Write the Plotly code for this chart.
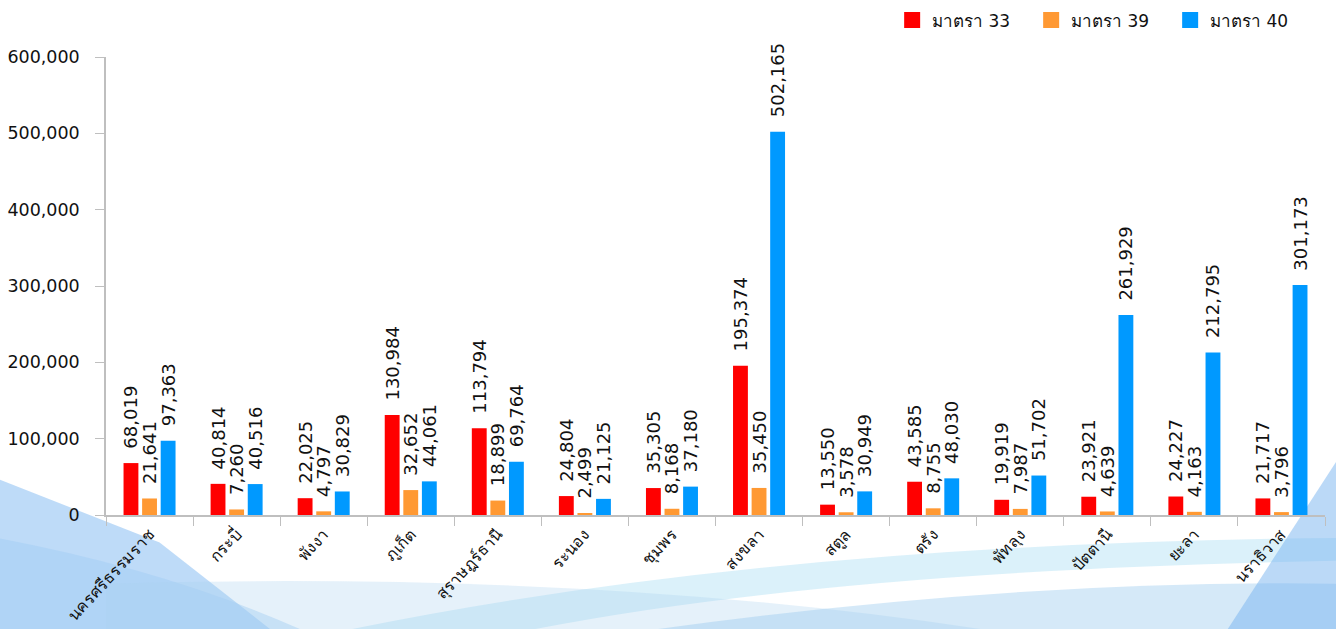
import plotly.graph_objects as go

provinces = ["นครศรีธรรมราช", "กระบี่", "พังงา", "ภูเก็ต", "สุราษฎร์ธานี", "ระนอง", "ชุมพร",
             "สงขลา", "สตูล", "ตรัง", "พัทลุง", "ปัตตานี", "ยะลา", "นราธิวาส"]
m33 = [68019, 40814, 22025, 130984, 113794, 24804, 35305, 195374, 13550, 43585, 19919, 23921, 24227, 21717]
m39 = [21641, 7260, 4797, 32652, 18899, 2499, 8168, 35450, 3578, 8755, 7987, 4639, 4163, 3796]
m40 = [97363, 40516, 30829, 44061, 69764, 21125, 37180, 502165, 30949, 48030, 51702, 261929, 212795, 301173]
y_ticks = [0, 100000, 200000, 300000, 400000, 500000, 600000]

series = [("มาตรา 33", m33, "#FF0000"), ("มาตรา 39", m39, "#FF9933"), ("มาตรา 40", m40, "#0099FF")]

fig = go.Figure()
for name, vals, col in series:
    fig.add_trace(go.Bar(
        x=provinces, y=vals, name=name, showlegend=False,
        marker=dict(color=col, line=dict(width=0)),
        text=["\u00a0\u00a0" + f"{v:,}" for v in vals],
        textposition="outside", textangle=-90, constraintext="none",
        textfont=dict(family="DejaVu Sans, sans-serif", size=18, color="#111"),
        cliponaxis=False,
    ))
for name, vals, col in series:
    fig.add_trace(go.Scatter(
        x=[None], y=[None], mode="markers", name=name,
        marker=dict(symbol="square", size=17, color=col),
    ))

shapes = [
    dict(type="path", xref="paper", yref="paper", layer="below",
         path="M -0.09 0.08 L 0.044 -0.06 L 0.135 -0.25 L -0.09 -0.25 Z",
         fillcolor="rgba(110,175,240,0.45)", line=dict(width=0)),
    dict(type="path", xref="paper", yref="paper", layer="below",
         path="M -0.09 -0.05 Q 0.05 -0.12 0.16 -0.25 L -0.09 -0.25 Z",
         fillcolor="rgba(160,205,245,0.45)", line=dict(width=0)),
    dict(type="path", xref="paper", yref="paper", layer="below",
         path="M 0.2 -0.25 Q 0.55 -0.06 1.01 -0.05 L 1.01 -0.1 Q 0.6 -0.12 0.35 -0.25 Z",
         fillcolor="rgba(175,225,245,0.45)", line=dict(width=0)),
    dict(type="path", xref="paper", yref="paper", layer="below",
         path="M 0.0 -0.15 Q 0.4 -0.12 0.72 -0.25 L 0.0 -0.25 Z",
         fillcolor="rgba(170,210,240,0.3)", line=dict(width=0)),
    dict(type="path", xref="paper", yref="paper", layer="below",
         path="M 0.45 -0.25 Q 0.75 -0.14 1.01 -0.15 L 1.01 -0.25 Z",
         fillcolor="rgba(150,200,238,0.4)", line=dict(width=0)),
    dict(type="path", xref="paper", yref="paper", layer="below",
         path="M 0.92 -0.25 L 1.01 0.12 L 1.01 -0.25 Z",
         fillcolor="rgba(120,180,240,0.5)", line=dict(width=0)),
]

fig.update_layout(
    width=1336, height=629,
    margin=dict(l=106, r=11, t=57, b=114, autoexpand=False),
    paper_bgcolor="white", plot_bgcolor="rgba(0,0,0,0)",
    barmode="group", bargap=0.36, bargroupgap=0.2,
    font=dict(family="DejaVu Sans, sans-serif", size=16, color="#111"),
    legend=dict(orientation="h", x=0.987, xanchor="right", y=1.08, yanchor="middle",
                font=dict(size=17), traceorder="normal", itemwidth=30,
                entrywidth=94, bgcolor="rgba(0,0,0,0)"),
    shapes=shapes,
    showlegend=True,
)
fig.update_yaxes(range=[0, 600000], tickvals=y_ticks,
                 tickformat=",d", showgrid=False, showline=True, linecolor="#BFBFBF", linewidth=1.5,
                 ticks="outside", ticklen=9, tickcolor="#BFBFBF", zeroline=False,
                 ticklabelstandoff=12,
                 tickfont=dict(size=17.5), automargin=False)
fig.update_xaxes(showline=True, linecolor="#BFBFBF", linewidth=1.5, ticks="outside",
                 tickson="boundaries", ticklen=9, tickcolor="#BFBFBF", tickangle=-47,
                 ticklabelstandoff=2,
                 tickfont=dict(size=16), showgrid=False, automargin=False)

fig.write_html("out.html", config={"displayModeBar": False},
               post_script="document.body.style.margin='0';document.body.style.overflow='hidden';")
